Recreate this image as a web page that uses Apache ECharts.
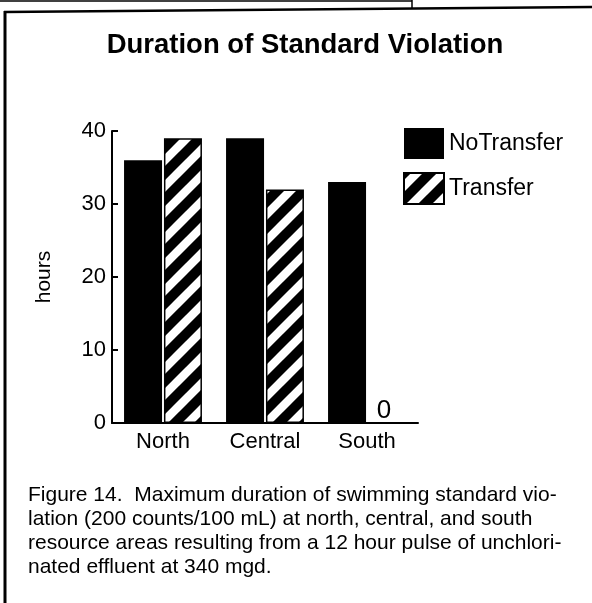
<!DOCTYPE html>
<html>
<head>
<meta charset="utf-8">
<script src="https://cdn.jsdelivr.net/npm/echarts@6/dist/echarts.min.js"></script>
<style>
  html, body { margin: 0; padding: 0; background: #fff; }
  #chart { width: 592px; height: 603px; }
</style>
</head>
<body>
<div id="chart"></div>
<script>
  // data
  var categories = ['North', 'Central', 'South'];
  var noTransfer = [36, 39, 33];
  var transfer = [39, 32, 0];

  var titleText = 'Duration of Standard Violation';
  var captionText = 'Figure 14.  Maximum duration of swimming standard vio-\n' +
    'lation (200 counts/100 mL) at north, central, and south\n' +
    'resource areas resulting from a 12 hour pulse of unchlori-\n' +
    'nated effluent at 340 mgd.';

  /* diagonal hatch tile for the Transfer bars */
  function makeHatch() {
    var s = 26;
    var c = document.createElement('canvas');
    c.width = s; c.height = s;
    var ctx = c.getContext('2d');
    ctx.fillStyle = '#fff';
    ctx.fillRect(0, 0, s, s);
    ctx.strokeStyle = '#000';
    ctx.lineWidth = 10;
    [0, s, 2 * s].forEach(function (k) {
      ctx.beginPath();
      ctx.moveTo(-s, k + s);
      ctx.lineTo(k + s, -s);
      ctx.stroke();
    });
    return c;
  }

  var font = 'Liberation Sans, Arial, Helvetica, sans-serif';
  var chart = echarts.init(document.getElementById('chart'));

  chart.setOption({
    backgroundColor: '#fff',
    animation: false,
    title: {
      text: titleText,
      left: 300,
      textAlign: 'center',
      top: 26,
      textStyle: {
        fontFamily: font,
        fontWeight: 'bold',
        fontSize: 27.5,
        color: '#000'
      }
    },
    legend: {
      orient: 'vertical',
      left: 403,
      top: 128,
      padding: 0,
      itemWidth: 40,
      itemHeight: 31,
      itemGap: 13,
      icon: 'rect',
      textStyle: { fontFamily: font, fontSize: 23, color: '#000' },
      data: ['NoTransfer', 'Transfer']
    },
    grid: { left: 112, right: 174, top: 131, bottom: 180, containLabel: false },
    xAxis: {
      type: 'category',
      data: categories,
      axisLine: { lineStyle: { color: '#000', width: 2 } },
      axisTick: { inside: true, length: 7, lineStyle: { color: '#000', width: 1.5 } },
      axisLabel: { fontFamily: font, fontSize: 22, color: '#000', margin: 8 }
    },
    yAxis: {
      type: 'value',
      min: 0,
      max: 40,
      interval: 10,
      name: 'hours',
      nameLocation: 'middle',
      nameGap: 57,
      nameRotate: 90,
      nameTextStyle: { fontFamily: font, fontSize: 21, color: '#000' },
      axisLine: { show: true, lineStyle: { color: '#000', width: 2 } },
      axisTick: { show: true, inside: true, length: 6, lineStyle: { color: '#000', width: 2 } },
      axisLabel: { fontFamily: font, fontSize: 22, color: '#000', margin: 6 },
      splitLine: { show: false }
    },
    series: [
      {
        name: 'NoTransfer',
        type: 'bar',
        data: noTransfer,
        barWidth: 38,
        barGap: '5%',
        itemStyle: { color: '#000' }
      },
      {
        name: 'Transfer',
        type: 'bar',
        data: transfer,
        barWidth: 38,
        itemStyle: {
          color: { image: makeHatch(), repeat: 'repeat' },
          borderColor: '#000',
          borderWidth: 1.5
        },
        label: {
          show: true,
          position: 'top',
          distance: 0,
          offset: [-3, 2],
          fontFamily: font,
          fontSize: 26,
          color: '#000',
          formatter: function (p) { return p.value === 0 ? '0' : ''; }
        }
      }
    ],
    graphic: [
      // panel frame
      { type: 'line', shape: { x1: 5, y1: 11, x2: 5, y2: 603 }, style: { stroke: '#000', lineWidth: 3 } },
      { type: 'line', shape: { x1: 4, y1: 12, x2: 592, y2: 7 }, style: { stroke: '#000', lineWidth: 2.5 } },
      { type: 'line', shape: { x1: 0, y1: 1, x2: 412, y2: 1 }, style: { stroke: '#000', lineWidth: 1.5 } },
      { type: 'line', shape: { x1: 412, y1: 0, x2: 412, y2: 9 }, style: { stroke: '#000', lineWidth: 1.5 } },
      {
        type: 'text',
        left: 28,
        top: 483,
        style: {
          text: captionText,
          fontFamily: font,
          fontSize: 21,
          lineHeight: 24,
          fill: '#000'
        }
      }
    ]
  });
</script>
</body>
</html>
